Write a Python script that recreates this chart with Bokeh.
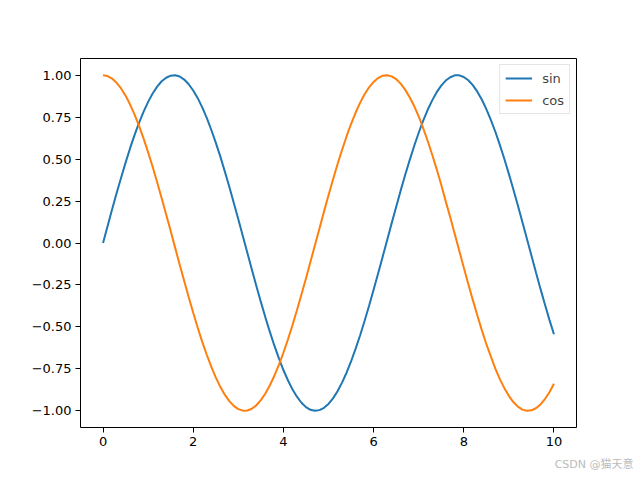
from bokeh.plotting import figure
from bokeh.models import Range1d, FixedTicker, Legend, LegendItem, Title
from bokeh.embed import file_html
from bokeh.resources import INLINE

x = [0.0, 0.1, 0.2, 0.3, 0.4, 0.5, 0.6, 0.7, 0.8, 0.9,
     1.0, 1.1, 1.2, 1.3, 1.4, 1.5, 1.6, 1.7, 1.8, 1.9,
     2.0, 2.1, 2.2, 2.3, 2.4, 2.5, 2.6, 2.7, 2.8, 2.9,
     3.0, 3.1, 3.2, 3.3, 3.4, 3.5, 3.6, 3.7, 3.8, 3.9,
     4.0, 4.1, 4.2, 4.3, 4.4, 4.5, 4.6, 4.7, 4.8, 4.9,
     5.0, 5.1, 5.2, 5.3, 5.4, 5.5, 5.6, 5.7, 5.8, 5.9,
     6.0, 6.1, 6.2, 6.3, 6.4, 6.5, 6.6, 6.7, 6.8, 6.9,
     7.0, 7.1, 7.2, 7.3, 7.4, 7.5, 7.6, 7.7, 7.8, 7.9,
     8.0, 8.1, 8.2, 8.3, 8.4, 8.5, 8.6, 8.7, 8.8, 8.9,
     9.0, 9.1, 9.2, 9.3, 9.4, 9.5, 9.6, 9.7, 9.8, 9.9,
     10.0]
sin_y = [0.000, 0.100, 0.199, 0.296, 0.389, 0.479, 0.565, 0.644, 0.717, 0.783,
         0.841, 0.891, 0.932, 0.964, 0.985, 0.997, 1.000, 0.992, 0.974, 0.946,
         0.909, 0.863, 0.808, 0.746, 0.675, 0.598, 0.516, 0.427, 0.335, 0.239,
         0.141, 0.042, -0.058, -0.158, -0.256, -0.351, -0.443, -0.530, -0.612, -0.688,
         -0.757, -0.818, -0.872, -0.916, -0.952, -0.978, -0.994, -1.000, -0.996, -0.982,
         -0.959, -0.926, -0.883, -0.832, -0.773, -0.706, -0.631, -0.551, -0.465, -0.374,
         -0.279, -0.182, -0.083, 0.017, 0.117, 0.215, 0.312, 0.405, 0.494, 0.578,
         0.657, 0.729, 0.794, 0.850, 0.899, 0.938, 0.968, 0.988, 0.999, 0.999,
         0.989, 0.970, 0.941, 0.902, 0.855, 0.798, 0.734, 0.663, 0.585, 0.501,
         0.412, 0.319, 0.223, 0.125, 0.025, -0.075, -0.174, -0.272, -0.366, -0.458,
         -0.544]
cos_y = [1.000, 0.995, 0.980, 0.955, 0.921, 0.878, 0.825, 0.765, 0.697, 0.622,
         0.540, 0.454, 0.362, 0.267, 0.170, 0.071, -0.029, -0.129, -0.227, -0.323,
         -0.416, -0.505, -0.589, -0.666, -0.737, -0.801, -0.857, -0.904, -0.942, -0.971,
         -0.990, -0.999, -0.998, -0.988, -0.967, -0.936, -0.897, -0.848, -0.791, -0.726,
         -0.654, -0.575, -0.490, -0.401, -0.307, -0.211, -0.112, -0.012, 0.087, 0.187,
         0.284, 0.378, 0.469, 0.554, 0.635, 0.709, 0.776, 0.835, 0.886, 0.928,
         0.960, 0.983, 0.997, 1.000, 0.993, 0.977, 0.950, 0.914, 0.869, 0.816,
         0.754, 0.685, 0.608, 0.526, 0.439, 0.347, 0.248, 0.153, 0.054, -0.046,
         -0.146, -0.244, -0.339, -0.431, -0.519, -0.602, -0.676, -0.749, -0.811, -0.865,
         -0.911, -0.948, -0.975, -0.993, -1.000, -0.997, -0.985, -0.962, -0.930, -0.889,
         -0.839]
series_names = ["sin", "cos"]
colors = ["#1f77b4", "#ff7f0e"]
x_ticks = [0, 2, 4, 6, 8, 10]
y_ticks = [-1.0, -0.75, -0.5, -0.25, 0.0, 0.25, 0.5, 0.75, 1.0]
watermark = "CSDN @猫天意"

p = figure(width=640, height=480, output_backend="svg", toolbar_location=None,
           x_range=Range1d(-0.5, 10.5), y_range=Range1d(-1.0995, 1.0995),
           min_border_left=80, min_border_right=64, min_border_top=58, min_border_bottom=53)
p.grid.visible = False
p.outline_line_color = "black"
p.outline_line_width = 1
p.background_fill_color = "white"
p.border_fill_color = "white"

font = "DejaVu Sans"
for ax in (p.xaxis[0], p.yaxis[0]):
    ax.axis_line_color = None
    ax.major_tick_line_color = "black"
    ax.major_tick_out = 5
    ax.major_tick_in = 0
    ax.minor_tick_line_color = None
    ax.major_label_text_font = font
    ax.major_label_text_font_size = "13px"
    ax.major_label_text_color = "black"
    ax.major_label_standoff = 4

p.xaxis.ticker = FixedTicker(ticks=x_ticks)
p.yaxis.ticker = FixedTicker(ticks=y_ticks)
p.xaxis.major_label_overrides = {t: str(t) for t in x_ticks}
p.yaxis.major_label_overrides = {t: ("%.2f" % t).replace("-", "\u2212") for t in y_ticks}

r1 = p.line(x, sin_y, line_color=colors[0], line_width=2)
r2 = p.line(x, cos_y, line_color=colors[1], line_width=2)

legend = Legend(items=[LegendItem(label=series_names[0], renderers=[r1]),
                       LegendItem(label=series_names[1], renderers=[r2])],
                location="top_right")
legend.margin = 6
legend.padding = 5
legend.spacing = 6
legend.glyph_width = 27
legend.glyph_height = 16
legend.label_height = 16
legend.label_standoff = 10
legend.label_text_font = font
legend.label_text_font_size = "13px"
legend.label_text_baseline = "middle"
legend.border_line_color = "#cccccc"
legend.border_line_width = 1
legend.background_fill_alpha = 0.8
p.add_layout(legend)

# watermark as a side-panel title below the x axis (not clipped by the frame)
wm = Title(text=watermark, align="right", offset=-57, standoff=14,
           text_font_size="11px", text_font_style="normal",
           text_color="#bbbbbb", text_font="DejaVu Sans, Noto Sans CJK SC")
p.add_layout(wm, "below")

open("out.html", "w").write(file_html(p, INLINE))
